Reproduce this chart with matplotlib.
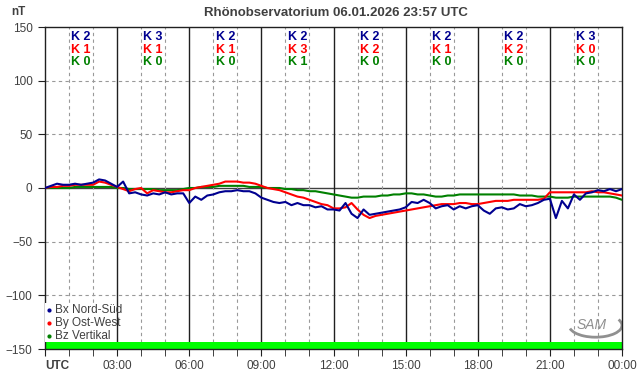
import matplotlib
matplotlib.use("Agg")
import matplotlib.pyplot as plt
from matplotlib.patches import Arc, Rectangle
import numpy as np

plt.rcParams['font.family'] = ['Liberation Sans', 'DejaVu Sans']

# quarter-hour values, 00:00 .. 24:00 UTC (nT)
bx = [0, 2, 4, 3, 3, 4, 3, 4, 5, 8, 7, 4, 1, 6, -5, -4,
      -6, -7, -5, -6, -4, -6, -5, -5, -14, -8, -11, -7, -6, -4, -3, -3,
      -2, -3, -3, -5, -9, -11, -13, -14, -13, -16, -14, -16, -16, -18, -17, -20,
      -20, -21, -14, -24, -28, -20, -25, -24, -23, -22, -21, -20, -18, -13, -14, -11,
      -14, -19, -17, -16, -20, -17, -19, -17, -16, -21, -24, -19, -18, -20, -19, -15,
      -17, -16, -14, -11, -10, -28, -12, -19, -6, -11, -5, -4, -2, -3, -1, -3, -1]
by = [0, 1, 1, 2, 2, 3, 3, 3, 3, 6, 5, 3, 1, -1, -3, -1,
      0, -5, -2, -3, -4, -4, -3, -2, -2, 0, 1, 2, 3, 4, 6, 6,
      6, 5, 5, 4, 2, 0, -1, -2, -4, -6, -8, -9, -11, -13, -15, -16,
      -19, -19, -18, -14, -20, -25, -28, -26, -25, -24, -23, -22, -21, -20, -19, -18,
      -17, -16, -15, -15, -15, -14, -14, -15, -15, -14, -13, -12, -12, -12, -11, -11,
      -11, -11, -11, -10, -4, -4, -4, -4, -4, -4, -4, -3, -4, -4, -5, -6, -7]
bz = [0, 0, 0, 0, 0, 1, 1, 1, 1, 1, 1, 1, 0, 0, -1, -1,
      -1, -1, -1, -2, -2, -2, -2, -1, 0, 0, 1, 1, 1, 2, 2, 2,
      2, 2, 1, 1, 1, 0, 0, 0, -1, -1, -2, -2, -3, -3, -4, -5,
      -6, -7, -8, -9, -9, -8, -8, -8, -7, -7, -6, -6, -5, -5, -6, -6,
      -7, -8, -8, -7, -7, -6, -6, -6, -6, -6, -6, -6, -6, -6, -6, -7,
      -7, -7, -8, -8, -8, -9, -9, -9, -8, -8, -8, -8, -8, -8, -8, -9, -11]
hours = np.arange(len(bx)) * 0.25

k_x = [2, 3, 2, 2, 2, 2, 2, 3]
k_y = [1, 1, 1, 3, 2, 1, 2, 0]
k_z = [0, 0, 0, 1, 0, 0, 0, 0]

tick_labels = ['UTC', '03:00', '06:00', '09:00', '12:00', '15:00', '18:00', '21:00', '00:00']

c_x, c_y, c_z = '#000090', '#ff0000', '#008000'
txt = '#404040'

fig = plt.figure(figsize=(6.42, 3.76), dpi=100)
ax = fig.add_axes([45/642, 27/376, 577/642, 322/376])
ax.set_xlim(0, 24)
ax.set_ylim(-150, 150)

# grid
for v in [-100, -50, 50, 100]:
    ax.axhline(v, color='#999999', lw=0.8, ls=(0, (3, 3)), zorder=1)
ax.axhline(0, color='#404040', lw=1, zorder=1)
for h in range(1, 24):
    if h % 3 == 0:
        ax.axvline(h, color='#202020', lw=1, zorder=1)
    else:
        ax.axvline(h, color='#999999', lw=0.8, ls=(0, (3, 3)), zorder=1)

ax.axhspan(-150, -143.5, color='#00ff00', lw=0, zorder=2)

ax.plot(hours, bz, color=c_z, lw=1.5, zorder=3)
ax.plot(hours, by, color=c_y, lw=1.5, zorder=4)
ax.plot(hours, bx, color=c_x, lw=1.5, zorder=5)

# K indices
for i in range(8):
    xc = i * 3 + 1.5
    ax.text(xc, 140.5, f'K {k_x[i]}', color=c_x, fontsize=9, fontweight='bold', ha='center', va='center')
    ax.text(xc, 128.6, f'K {k_y[i]}', color=c_y, fontsize=9, fontweight='bold', ha='center', va='center')
    ax.text(xc, 117.0, f'K {k_z[i]}', color=c_z, fontsize=9, fontweight='bold', ha='center', va='center')

# legend on a white box
ax.add_patch(Rectangle((0, -143.5), 2.95, 36.5, facecolor='white', edgecolor='none', zorder=5.5))
for yy, col, lab in [(-113.5, c_x, 'Bx Nord-Süd'), (-125.5, c_y, 'By Ost-West'), (-137.5, c_z, 'Bz Vertikal')]:
    ax.plot([0.15], [yy], marker='o', ms=2, color=col, zorder=6)
    ax.text(0.42, yy, lab, color=txt, fontsize=8.5, va='center', ha='left', zorder=6)

# SAM logo
ax.text(22.75, -128, 'SAM', color='#909090', fontsize=10, fontstyle='italic', ha='center', va='center')
ax.add_patch(Arc((22.9, -128), 2.2, 22, theta1=-110, theta2=80, color='#909090', lw=2))

# axes styling
for s in ['top', 'left', 'right', 'bottom']:
    ax.spines[s].set_color('#202020')
    ax.spines[s].set_linewidth(1)
ax.set_xticks(range(0, 25, 3))
ax.set_xticks(range(0, 25), minor=True)
ax.set_xticklabels(tick_labels)
ax.get_xticklabels()[0].set_fontweight('bold')
ax.get_xticklabels()[0].set_ha('left')
ax.tick_params(axis='x', which='both', length=5, color='#202020', labelsize=8.5, labelcolor=txt, pad=3)
ax.set_yticks(range(-150, 151, 50))
ax.tick_params(axis='y', length=5, color='#202020', labelsize=8.5, labelcolor=txt, pad=4)

fig.text(336/642, 1 - 13/376, 'Rhönobservatorium 06.01.2026 23:57 UTC', ha='center', va='center',
         fontsize=9.5, fontweight='bold', color=txt)
fig.text(18/642, 1 - 12/376, 'nT', ha='center', va='center', fontsize=8.5, fontweight='bold', color=txt)

fig.savefig('out.png', dpi=100)
